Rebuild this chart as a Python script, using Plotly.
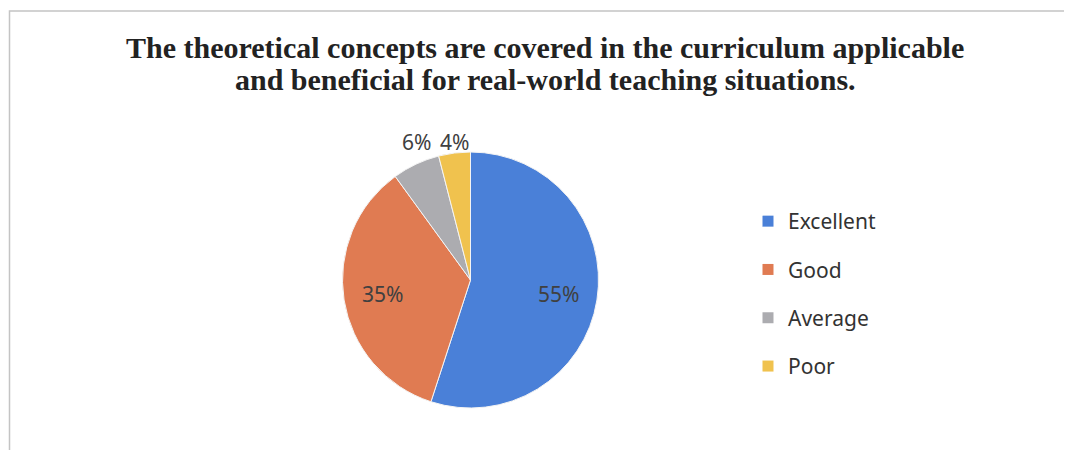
import math
import plotly.graph_objects as go

# survey answers
labels = ["Excellent", "Good", "Average", "Poor"]
values = [55, 35, 6, 4]
colors = ["#4a80d8", "#e07b52", "#acacb0", "#f0c24e"]
title_lines = [
    "The theoretical concepts are covered in the curriculum applicable",
    "and beneficial for real-world teaching situations.",
]

# page body has an 8px margin, so the figure is drawn 8px smaller and shifted
OFF = 8
W, H = 1072 - OFF, 450 - OFF


def px(x):
    return (x - OFF) / W


def py(y):
    return 1 - (y - OFF) / H


# pie geometry in screen pixels
CX, CY, R = 470.5, 280, 128

fig = go.Figure()

fig.add_trace(go.Pie(
    labels=labels,
    values=values,
    sort=False,
    direction="clockwise",
    rotation=0,
    marker=dict(colors=colors, line=dict(color="#f4f4f4", width=1)),
    textinfo="none",
    showlegend=False,
    hoverinfo="label+percent",
    domain=dict(x=[px(CX - R), px(CX + R)], y=[py(CY + R), py(CY - R)]),
))

# value labels: big slices inside, small ones sitting just above the rim
annotations = []
total = sum(values)
cum = 0
for v in values:
    theta = 2 * math.pi * (cum + v / 2) / total
    cum += v
    share = v / total
    if share > 0.15:
        rr = 0.7 * R
        annotations.append(dict(
            x=px(CX + rr * math.sin(theta)), y=py(CY - rr * math.cos(theta)),
            xref="paper", yref="paper", text=f"{v}%", showarrow=False,
            xanchor="center", yanchor="middle",
            font=dict(family="Noto Sans", size=21, color="#404040"),
        ))
    else:
        annotations.append(dict(
            x=px(CX + R * math.sin(theta)), y=py(CY - R + 6),
            xref="paper", yref="paper", text=f"{v}%", showarrow=False,
            xanchor="center", yanchor="bottom",
            font=dict(family="Noto Sans", size=21, color="#404040"),
        ))

for i, line in enumerate(title_lines):
    annotations.append(dict(
        x=px(545), y=py(47 + 33 * i), xref="paper", yref="paper",
        text=f"<b>{line}</b>", showarrow=False,
        xanchor="center", yanchor="middle",
        font=dict(family="Liberation Serif", size=30, color="#222222"),
    ))

# legend with wider spacing than a pie legend allows -> one dummy trace per label
for lab, col in zip(labels, colors):
    fig.add_trace(go.Scatter(
        x=[None], y=[None], mode="markers", name=lab, legendgroup=lab,
        marker=dict(symbol="square", size=11, color=col),
    ))

fig.update_layout(
    width=W, height=H,
    margin=dict(l=0, r=0, t=0, b=0),
    paper_bgcolor="white",
    plot_bgcolor="white",
    xaxis=dict(visible=False),
    yaxis=dict(visible=False),
    annotations=annotations,
    legend=dict(
        x=px(748), xanchor="left",
        y=py(201), yanchor="top",
        font=dict(family="Noto Sans", size=21, color="#333333"),
        tracegroupgap=18,
        itemwidth=30,
        bgcolor="rgba(0,0,0,0)",
    ),
    shapes=[dict(
        type="rect", xref="paper", yref="paper",
        x0=px(9.5), x1=1.05, y0=-0.05, y1=py(11),
        line=dict(color="#c4c4c4", width=1.5),
    )],
)

fig.write_html("out.html")
